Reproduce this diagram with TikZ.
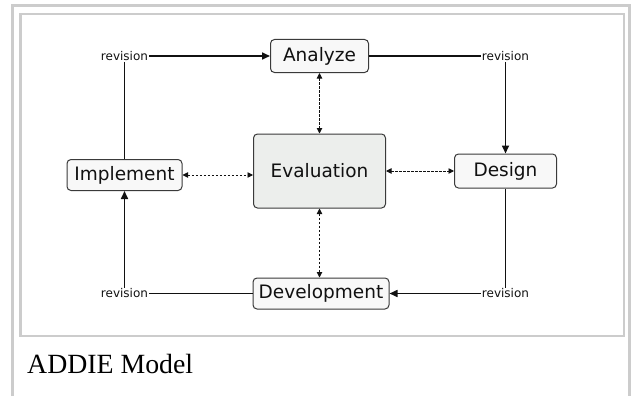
\documentclass[tikz,border=0pt]{standalone}
\usepackage{fontspec}
\setmainfont{Liberation Serif}
\newfontfamily\boxfont{DejaVu Sans}
\usetikzlibrary{arrows.meta}
\definecolor{framegray}{HTML}{CCCCCC}
\definecolor{boxline}{HTML}{3A3A3A}
\definecolor{boxfill}{HTML}{F8F8F8}
\definecolor{evalfill}{HTML}{ECEEEC}
\definecolor{ink}{HTML}{111111}
\tikzset{
  box/.style={draw=boxline, rounded corners=4pt, fill=boxfill, inner sep=0pt,
    line width=1pt, text=ink, font=\boxfont\fontsize{18.5}{20}\selectfont},
  rev/.style={inner sep=1pt, text=ink, font=\boxfont\fontsize{12}{13}\selectfont},
  flow/.style={line width=1.6pt, draw=ink},
  arr/.style={-{Triangle[length=8pt,width=7pt]}},
  dashlink/.style={draw=ink, line width=0.9pt, dash pattern=on 2.5pt off 1.5pt,
    {Triangle[length=5.5pt,width=5.5pt]}-{Triangle[length=5.5pt,width=5.5pt]}},
  framestroke/.style={draw=framegray, line width=3pt},
  caption/.style={anchor=base west, inner sep=0pt, font=\fontsize{27.8}{30}\selectfont, text=black}
}
\begin{document}
\begin{tikzpicture}[x=1pt,y=-1pt]
\useasboundingbox (0,0) rectangle (631,396);
% frames
\draw[framestroke] (12.5,396) -- (12.5,5.5) -- (629.5,5.5) -- (629.5,396);
\draw[draw=framegray, line width=2.5pt] (20.5,14) rectangle (624,336);
\node[caption] (cap) at (27,373) {ADDIE Model};
% boxes
\node[box, minimum width=98pt, minimum height=33pt] (analyze) at (319.5,56) {Analyze};
\node[box, fill=evalfill, minimum width=132pt, minimum height=74pt] (eval) at (319.5,171) {Evaluation};
\node[box, minimum width=115pt, minimum height=31pt] (impl) at (124.5,175) {Implement};
\node[box, minimum width=102pt, minimum height=34pt] (design) at (505.5,171) {Design};
\node[box, minimum width=136pt, minimum height=31pt] (dev) at (321,293.5) {Development};
% revision labels
\node[rev] (rtl) at (124.5,56) {revision};
\node[rev] (rtr) at (505.5,56) {revision};
\node[rev] (rbl) at (124.5,293.5) {revision};
\node[rev] (rbr) at (505.5,293.5) {revision};
% flow
\draw[flow, arr] (rtl) -- (analyze);
\draw[flow] (analyze) -- (rtr);
\draw[flow, arr] (rtr) -- (design);
\draw[flow] (design) -- (rbr);
\draw[flow, arr] (rbr) -- (dev);
\draw[flow] (dev) -- (rbl);
\draw[flow, arr] (rbl) -- (impl);
\draw[flow] (rtl) -- (impl);
% evaluation links
\draw[dashlink] (analyze.south) -- (analyze.south |- eval.north);
\draw[dashlink] (eval.south) -- (eval.south |- dev.north);
\draw[dashlink] (impl.east) -- (impl.east -| eval.west);
\draw[dashlink] (eval.east |- design.west) -- (design.west);
\end{tikzpicture}
\end{document}
